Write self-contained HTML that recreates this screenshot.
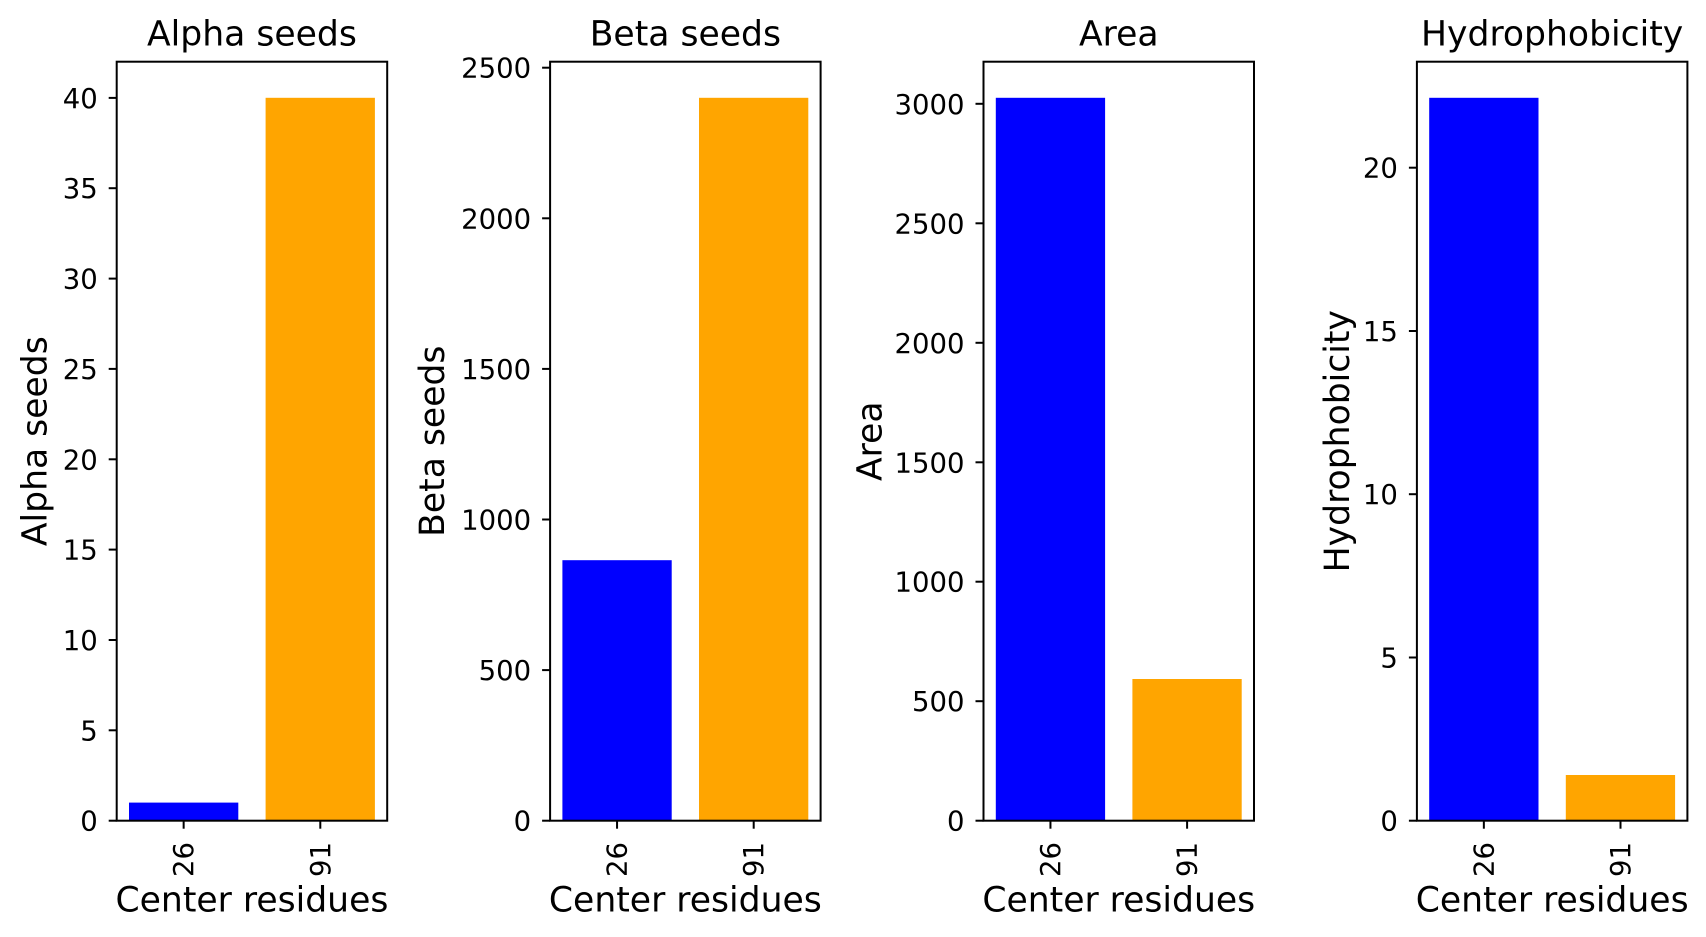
<!DOCTYPE html>
<html>
<head>
<meta charset="utf-8">
<style>
  html, body { margin: 0; padding: 0; background: #ffffff; }
  svg { display: block; }
  text { font-family: "DejaVu Sans", "Liberation Sans", sans-serif; fill: #000; }
  .tl { font-size: 27.5px; }
  .lb { font-size: 34.6px; }
</style>
</head>
<body>
<svg width="1706" height="937" viewBox="0 0 1706 937" xmlns="http://www.w3.org/2000/svg">
  <rect x="0" y="0" width="1706" height="937" fill="#ffffff"/>

  <!-- ===== Axis 1: Alpha seeds ===== -->
  <g transform="translate(116.7,0)">
    <rect x="12.3" y="802.6" width="109.3" height="18.1" fill="#0000ff"/>
    <rect x="148.9" y="97.8" width="109.3" height="722.9" fill="#ffa500"/>
    <rect x="0" y="61.7" width="270.5" height="759" fill="none" stroke="#000" stroke-width="2"/>
    <g stroke="#000" stroke-width="2">
      <line x1="-8" x2="0" y1="820.7" y2="820.7"/>
      <line x1="-8" x2="0" y1="730.3" y2="730.3"/>
      <line x1="-8" x2="0" y1="640.0" y2="640.0"/>
      <line x1="-8" x2="0" y1="549.6" y2="549.6"/>
      <line x1="-8" x2="0" y1="459.3" y2="459.3"/>
      <line x1="-8" x2="0" y1="368.9" y2="368.9"/>
      <line x1="-8" x2="0" y1="278.6" y2="278.6"/>
      <line x1="-8" x2="0" y1="188.2" y2="188.2"/>
      <line x1="-8" x2="0" y1="97.9" y2="97.9"/>
      <line x1="66.95" x2="66.95" y1="820.7" y2="828.7"/>
      <line x1="203.6" x2="203.6" y1="820.7" y2="828.7"/>
    </g>
    <g class="tl" text-anchor="end">
      <text x="-19" y="830.7">0</text>
      <text x="-19" y="740.3">5</text>
      <text x="-19" y="650.0">10</text>
      <text x="-19" y="559.6">15</text>
      <text x="-19" y="469.3">20</text>
      <text x="-19" y="378.9">25</text>
      <text x="-19" y="288.6">30</text>
      <text x="-19" y="198.2">35</text>
      <text x="-19" y="107.9">40</text>
    </g>
    <text class="tl" text-anchor="end" transform="translate(76.45,842) rotate(-90)">26</text>
    <text class="tl" text-anchor="end" transform="translate(213.1,842) rotate(-90)">91</text>
    <text class="lb" text-anchor="middle" x="135.25" y="45.7">Alpha seeds</text>
    <text class="lb" text-anchor="middle" x="135.25" y="911.7">Center residues</text>
    <text class="lb" text-anchor="middle" transform="translate(-70,441.2) rotate(-90)">Alpha seeds</text>
  </g>

  <!-- ===== Axis 2: Beta seeds ===== -->
  <g transform="translate(550.1,0)">
    <rect x="12.3" y="560.2" width="109.3" height="260.5" fill="#0000ff"/>
    <rect x="148.9" y="97.8" width="109.3" height="722.9" fill="#ffa500"/>
    <rect x="0" y="61.7" width="270.5" height="759" fill="none" stroke="#000" stroke-width="2"/>
    <g stroke="#000" stroke-width="2">
      <line x1="-8" x2="0" y1="820.7" y2="820.7"/>
      <line x1="-8" x2="0" y1="670.1" y2="670.1"/>
      <line x1="-8" x2="0" y1="519.5" y2="519.5"/>
      <line x1="-8" x2="0" y1="368.9" y2="368.9"/>
      <line x1="-8" x2="0" y1="218.3" y2="218.3"/>
      <line x1="-8" x2="0" y1="67.7" y2="67.7"/>
      <line x1="66.95" x2="66.95" y1="820.7" y2="828.7"/>
      <line x1="203.6" x2="203.6" y1="820.7" y2="828.7"/>
    </g>
    <g class="tl" text-anchor="end">
      <text x="-19" y="830.7">0</text>
      <text x="-19" y="680.1">500</text>
      <text x="-19" y="529.5">1000</text>
      <text x="-19" y="378.9">1500</text>
      <text x="-19" y="228.3">2000</text>
      <text x="-19" y="77.7">2500</text>
    </g>
    <text class="tl" text-anchor="end" transform="translate(76.45,842) rotate(-90)">26</text>
    <text class="tl" text-anchor="end" transform="translate(213.1,842) rotate(-90)">91</text>
    <text class="lb" text-anchor="middle" x="135.25" y="45.7">Beta seeds</text>
    <text class="lb" text-anchor="middle" x="135.25" y="911.7">Center residues</text>
    <text class="lb" text-anchor="middle" transform="translate(-106,441.2) rotate(-90)">Beta seeds</text>
  </g>

  <!-- ===== Axis 3: Area ===== -->
  <g transform="translate(983.5,0)">
    <rect x="12.3" y="97.8" width="109.3" height="722.9" fill="#0000ff"/>
    <rect x="148.9" y="679.0" width="109.3" height="141.7" fill="#ffa500"/>
    <rect x="0" y="61.7" width="270.5" height="759" fill="none" stroke="#000" stroke-width="2"/>
    <g stroke="#000" stroke-width="2">
      <line x1="-8" x2="0" y1="820.7" y2="820.7"/>
      <line x1="-8" x2="0" y1="701.2" y2="701.2"/>
      <line x1="-8" x2="0" y1="581.7" y2="581.7"/>
      <line x1="-8" x2="0" y1="462.3" y2="462.3"/>
      <line x1="-8" x2="0" y1="342.8" y2="342.8"/>
      <line x1="-8" x2="0" y1="223.3" y2="223.3"/>
      <line x1="-8" x2="0" y1="103.8" y2="103.8"/>
      <line x1="66.95" x2="66.95" y1="820.7" y2="828.7"/>
      <line x1="203.6" x2="203.6" y1="820.7" y2="828.7"/>
    </g>
    <g class="tl" text-anchor="end">
      <text x="-19" y="830.7">0</text>
      <text x="-19" y="711.2">500</text>
      <text x="-19" y="591.7">1000</text>
      <text x="-19" y="472.3">1500</text>
      <text x="-19" y="352.8">2000</text>
      <text x="-19" y="233.3">2500</text>
      <text x="-19" y="113.8">3000</text>
    </g>
    <text class="tl" text-anchor="end" transform="translate(76.45,842) rotate(-90)">26</text>
    <text class="tl" text-anchor="end" transform="translate(213.1,842) rotate(-90)">91</text>
    <text class="lb" text-anchor="middle" x="135.25" y="45.7">Area</text>
    <text class="lb" text-anchor="middle" x="135.25" y="911.7">Center residues</text>
    <text class="lb" text-anchor="middle" transform="translate(-102,441.2) rotate(-90)">Area</text>
  </g>

  <!-- ===== Axis 4: Hydrophobicity ===== -->
  <g transform="translate(1416.9,0)">
    <rect x="12.3" y="97.8" width="109.3" height="722.9" fill="#0000ff"/>
    <rect x="148.9" y="775.0" width="109.3" height="45.7" fill="#ffa500"/>
    <rect x="0" y="61.7" width="270.5" height="759" fill="none" stroke="#000" stroke-width="2"/>
    <g stroke="#000" stroke-width="2">
      <line x1="-8" x2="0" y1="820.7" y2="820.7"/>
      <line x1="-8" x2="0" y1="657.5" y2="657.5"/>
      <line x1="-8" x2="0" y1="494.2" y2="494.2"/>
      <line x1="-8" x2="0" y1="331.0" y2="331.0"/>
      <line x1="-8" x2="0" y1="167.7" y2="167.7"/>
      <line x1="66.95" x2="66.95" y1="820.7" y2="828.7"/>
      <line x1="203.6" x2="203.6" y1="820.7" y2="828.7"/>
    </g>
    <g class="tl" text-anchor="end">
      <text x="-19" y="830.7">0</text>
      <text x="-19" y="667.5">5</text>
      <text x="-19" y="504.2">10</text>
      <text x="-19" y="341.0">15</text>
      <text x="-19" y="177.7">20</text>
    </g>
    <text class="tl" text-anchor="end" transform="translate(76.45,842) rotate(-90)">26</text>
    <text class="tl" text-anchor="end" transform="translate(213.1,842) rotate(-90)">91</text>
    <text class="lb" text-anchor="middle" x="135.25" y="45.7">Hydrophobicity</text>
    <text class="lb" text-anchor="middle" x="135.25" y="911.7">Center residues</text>
    <text class="lb" text-anchor="middle" transform="translate(-68,441.2) rotate(-90)">Hydrophobicity</text>
  </g>
</svg>
</body>
</html>
